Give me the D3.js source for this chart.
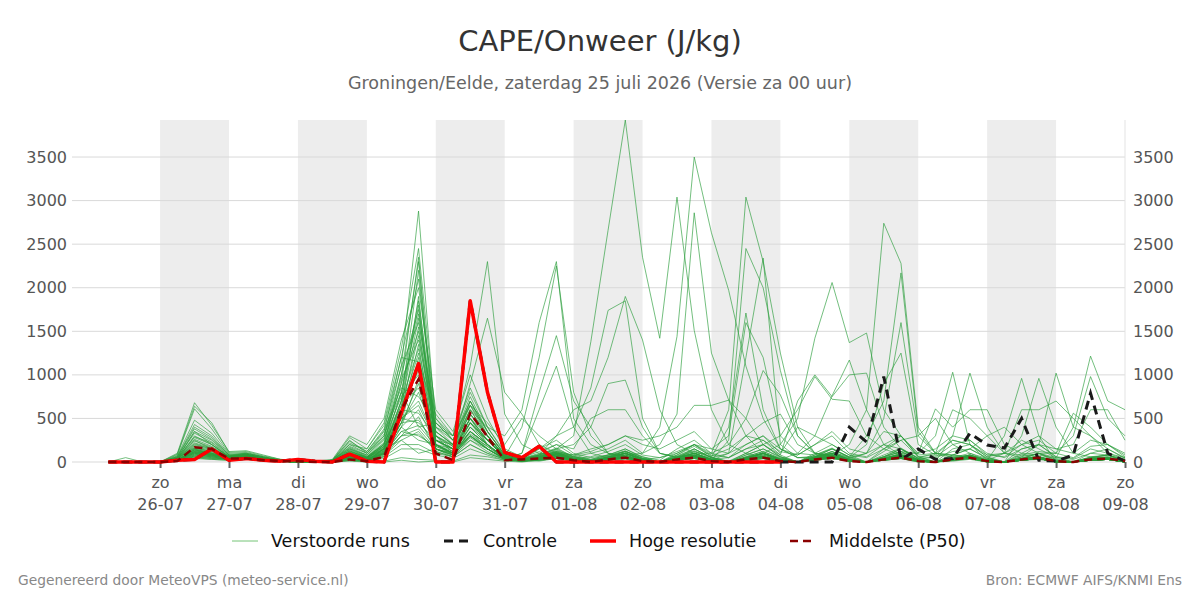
<!DOCTYPE html>
<html>
<head>
<meta charset="utf-8">
<script src="https://cdn.jsdelivr.net/npm/d3@7"></script>
<style>
  body { margin: 0; background: #fff; }
  text { font-family: "DejaVu Sans", sans-serif; }
</style>
</head>
<body>
<div id="chart"></div>
<script>
// Tijdstappen: elke 6 uur vanaf za 25-07 06 UTC
const startTijd = Date.UTC(2026, 6, 25, 6);
const stapUren = 6;

// Dag-labels onder de x-as
const dagLabels = ["26-07","27-07","28-07","29-07","30-07","31-07","01-08","02-08","03-08","04-08","05-08","06-08","07-08","08-08","09-08"];
const weekdagen = ["zo","ma","di","wo","do","vr","za","zo","ma","di","wo","do","vr","za","zo"];
const yTicks = [0, 500, 1000, 1500, 2000, 2500, 3000, 3500];

// Verstoorde runs (50 leden), CAPE in J/kg
const leden = [
[0,0,0, 0,40,350,200, 60,90,40,20, 10,0,20,150, 80,300,1100,2880, 400,200,600,300, 60,20,10,40, 20,0,30,80, 10,0,20,60, 20,0,30,90, 10,0,40,120, 20,0,30,80, 10,0,20,60, 10,0,20,50, 0,0,30,40, 0],
[0,0,0, 0,60,430,300, 80,60,30,10, 0,0,10,200, 150,450,1300,2450, 500,300,800,400, 100,30,20,60, 10,0,50,100, 30,0,40,150, 50,10,100,200, 80,700,1000,750, 1000,1020,400,150, 20,0,40,80, 10,0,30,60, 0,10,50,30, 0],
[0,0,0, 0,20,150,100, 50,70,40,10, 0,0,0,100, 50,250,900,2350, 300,100,500,200, 40,100,600,1100, 400,100,50,30, 0,0,20,40, 10,0,20,40, 0,0,20,60, 10,0,20,40, 0,0,10,30, 0,0,20,40, 0,0,20,30, 0],
[0,0,0, 0,30,250,150, 40,80,50,20, 10,0,0,50, 30,200,1000,2300, 250,150,700,350, 80,40,100,200, 150,500,600,600, 300,100,50,80, 30,0,50,100, 20,0,60,100, 30,0,50,120, 20,0,30,80, 10,0,40,100, 0,0,60,80, 20],
[0,0,0, 0,10,120,80, 30,50,30,10, 0,0,0,80, 20,150,700,2200, 200,100,400,250, 60,30,80,300, 600,700,1200,1900, 1400,600,200,100, 30,0,40,60, 10,0,30,50, 10,0,30,60, 10,0,20,40, 0,0,20,40, 0,0,30,50, 0],
[0,0,0, 0,50,160,120, 70,100,60,20, 0,0,20,250, 100,350,1200,2100, 450,250,650,300, 50,20,40,80, 30,0,20,50, 0,0,30,80, 20,0,40,100, 30,0,40,80, 20,0,40,100, 30,0,50,100, 20,300,960,300, 0,0,50,80, 0],
[0,0,0, 0,100,680,420, 120,130,80,30, 20,10,30,300, 200,500,1400,2000, 600,350,1000,500, 150,60,150,250, 100,50,80,120, 40,0,100,200, 150,300,1600,1200, 300,100,80,60, 20,0,40,80, 10,0,30,60, 10,0,20,40, 0,0,20,30, 0],
[0,0,0, 0,20,140,90, 40,60,30,10, 0,0,0,60, 20,100,600,1900, 200,100,300,150, 30,10,50,100, 60,100,150,250, 100,200,550,2860, 1250,710,300,100, 30,0,30,60, 10,0,30,60, 10,0,30,60, 0,0,20,40, 0,0,20,30, 0],
[0,0,0, 0,40,290,220, 60,80,40,10, 0,0,10,120, 60,200,800,1850, 350,200,550,300, 70,30,60,120, 40,0,60,100, 20,0,40,80, 20,0,50,100, 30,0,50,100, 40,100,500,1600, 300,100,80,60, 20,0,40,60, 0,0,30,50, 0],
[0,0,0, 0,20,100,70, 40,60,40,20, 10,0,0,40, 10,150,700,1800, 150,80,450,200, 50,20,40,100, 80,150,200,300, 250,300,400,650, 650,710,500,200, 60,0,40,80, 20,0,40,60, 10,0,30,60, 10,0,20,40, 0,0,30,40, 0],
[0,0,0, 0,50,350,250, 70,90,50,20, 0,0,10,180, 100,300,1000,1750, 300,150,600,400, 300,600,1600,2300, 500,200,100,60, 20,0,30,60, 10,0,30,50, 10,0,30,60, 10,0,30,60, 10,0,20,40, 0,0,20,40, 0,0,20,30, 0],
[0,0,0, 0,30,190,140, 50,70,30,10, 0,0,0,90, 40,180,800,1700, 400,300,1100,2300, 550,200,100,80, 40,0,30,60, 20,0,30,70, 10,0,30,60, 10,0,30,50, 10,0,20,40, 0,0,20,40, 0,0,20,30, 0,0,20,30, 0],
[0,0,0, 0,20,130,100, 40,50,30,10, 0,0,10,70, 30,160,650,1650, 250,120,500,250, 60,20,50,90, 30,0,40,80, 20,0,30,70, 10,0,30,70, 20,0,40,80, 20,0,40,100, 100,300,1030,200, 20,0,40,60, 0,0,30,50, 0],
[0,0,0, 0,80,610,380, 100,110,60,20, 10,0,20,220, 120,380,1100,1600, 500,250,750,350, 80,30,80,150, 200,400,900,940, 400,100,50,80, 20,0,40,80, 20,0,40,80, 20,0,40,90, 10,0,30,60, 10,0,30,50, 0,0,30,40, 0],
[0,0,0, 0,10,90,60, 30,40,20,10, 0,0,0,50, 20,120,550,1550, 200,80,350,200, 40,10,30,60, 20,0,30,60, 10,0,40,100, 100,600,3040,2300, 1250,400,100,60, 20,0,30,60, 10,0,30,50, 0,0,20,40, 0,0,20,30, 0],
[0,0,0, 0,30,220,160, 50,70,40,10, 0,0,10,110, 40,220,900,1500, 350,200,650,450, 200,500,300,150, 60,20,50,100, 30,0,50,120, 60,400,1710,600, 150,50,60,80, 20,0,40,80, 20,0,40,70, 10,0,30,50, 0,0,20,40, 0],
[0,0,0, 0,20,110,80, 40,60,30,10, 0,0,0,60, 20,140,600,1450, 250,150,450,250, 50,20,40,80, 20,0,30,60, 10,0,30,60, 20,0,40,100, 200,500,1420,2060, 1370,1480,600,300, 60,0,40,80, 20,0,30,60, 0,0,20,40, 0],
[0,0,0, 0,60,380,260, 80,90,50,20, 10,0,20,160, 70,280,950,1400, 400,250,700,300, 70,30,70,130, 60,30,80,150, 60,0,80,180, 70,150,300,250, 80,0,60,150, 50,100,200,150, 40,60,200,250, 100,50,150,200, 60,40,150,100, 50],
[0,0,0, 0,20,100,70, 40,50,20,10, 0,0,0,40, 10,100,500,1350, 150,80,350,150, 40,10,30,60, 20,0,30,60, 10,0,30,60, 10,0,30,60, 10,0,30,60, 10,0,30,60, 20,0,40,80, 30,0,60,200, 1020,400,300,100, 30],
[0,0,0, 0,40,260,180, 60,80,40,20, 0,0,10,130, 50,200,700,1300, 300,180,500,300, 60,30,80,150, 300,1380,2660,3925, 2350,1420,3040,1510, 600,200,100,50, 20,0,30,60, 10,0,30,60, 10,0,30,60, 10,0,20,40, 0,0,20,30, 0],
[0,0,0, 0,20,120,90, 40,60,30,10, 0,0,0,50, 20,130,600,1250, 200,100,400,200, 40,20,40,80, 30,0,40,80, 20,0,40,100, 30,50,150,200, 300,600,980,720, 700,300,150,80, 30,0,40,60, 10,0,30,50, 0,0,20,40, 0],
[0,0,0, 0,10,70,50, 30,40,20,10, 0,0,0,30, 10,90,450,1200, 150,60,300,150, 30,10,30,60, 20,0,30,50, 10,0,30,60, 10,0,30,60, 10,0,30,60, 20,0,40,80, 20,0,40,80, 20,0,40,100, 50,400,1215,700, 600],
[0,0,0, 0,90,640,450, 110,120,70,30, 10,10,20,280, 150,420,1200,1150, 550,300,850,400, 120,50,120,200, 80,30,80,150, 50,0,80,200, 60,0,100,200, 60,0,80,150, 60,0,150,250, 300,500,200,100, 40,0,60,100, 20,0,40,60, 0],
[0,0,0, 0,20,140,100, 40,60,30,10, 0,0,0,70, 20,150,550,1100, 200,100,450,250, 60,400,1200,2250, 800,300,100,60, 20,0,30,60, 10,0,30,60, 10,0,30,60, 10,0,30,60, 10,0,30,60, 0,0,20,40, 0,0,20,30, 0],
[0,0,0, 0,30,170,120, 50,70,40,10, 0,0,10,100, 40,170,600,1050, 250,150,500,250, 50,20,40,80, 20,0,30,60, 10,0,30,60, 10,0,30,60, 10,0,40,80, 200,600,2740,2280, 400,100,60,40, 10,0,30,50, 0,0,20,30, 0],
[0,0,0, 0,50,330,230, 70,90,50,20, 10,0,20,170, 80,260,750,1000, 350,200,600,300, 70,30,70,120, 50,20,60,120, 40,0,60,130, 50,0,80,150, 60,0,100,200, 80,50,150,300, 60,80,250,200, 60,100,250,150, 50,30,100,80, 30],
[0,0,0, 0,10,80,60, 30,40,20,10, 0,0,0,40, 10,80,400,950, 150,80,300,150, 30,10,30,60, 20,0,30,60, 10,0,30,60, 20,100,1200,2340, 200,50,40,60, 20,0,40,80, 20,0,30,60, 10,0,20,40, 0,0,20,30, 0],
[0,0,0, 0,20,110,80, 40,50,30,10, 0,0,0,60, 20,110,450,900, 200,100,350,200, 40,10,40,70, 20,0,30,60, 10,0,30,60, 10,0,30,60, 10,0,30,70, 20,0,40,80, 20,0,300,1020, 400,100,50,40, 10,0,20,30, 0],
[0,0,0, 0,40,210,150, 60,80,40,20, 10,0,10,140, 60,200,650,850, 300,180,550,300, 60,30,60,110, 40,10,50,100, 30,0,50,100, 30,0,60,120, 40,0,60,120, 40,0,60,150, 40,0,80,150, 300,400,200,100, 30,0,50,80, 0],
[0,0,0, 0,20,130,90, 40,60,30,10, 0,0,0,60, 20,120,450,800, 250,200,900,1650, 800,550,200,100, 40,0,30,60, 20,0,30,60, 10,0,30,60, 10,0,30,60, 10,0,30,60, 10,0,30,60, 0,0,20,40, 0,0,20,30, 0],
[0,0,0, 0,70,480,330, 90,100,60,20, 10,0,20,240, 120,360,850,750, 450,250,700,350, 90,40,90,160, 60,20,70,130, 40,0,70,150, 50,0,80,150, 50,0,80,160, 50,0,80,160, 40,50,120,150, 40,0,80,120, 100,560,400,200, 60],
[0,0,0, 0,20,160,110, 50,60,30,10, 0,0,10,90, 30,150,500,700, 250,150,450,250, 60,30,70,120, 80,120,200,300, 200,150,250,350, 150,100,200,300, 150,80,200,350, 150,100,350,300, 100,150,300,250, 80,100,200,300, 150,100,250,200, 100],
[0,0,0, 0,30,180,130, 50,70,40,10, 0,0,10,100, 40,160,500,650, 250,150,500,250, 60,20,50,100, 30,0,40,80, 100,400,1440,3500, 2630,1970,1100,500, 150,50,60,80, 20,0,40,80, 20,0,30,60, 10,0,20,40, 0,0,20,30, 0],
[0,0,0, 0,20,120,90, 40,50,30,10, 0,0,0,60, 20,100,400,600, 200,100,350,200, 40,20,40,80, 30,0,50,100, 30,50,100,200, 100,200,500,1050, 770,300,100,80, 30,0,40,80, 20,0,30,60, 10,0,20,40, 0,0,20,30, 0],
[0,0,0, 0,40,280,200, 60,80,40,20, 10,0,10,150, 60,220,600,560, 300,200,550,300, 70,30,60,110, 40,10,50,100, 30,0,50,100, 30,0,50,100, 30,0,50,120, 50,200,900,1250, 200,80,60,60, 20,0,40,60, 10,0,30,50, 0],
[0,0,0, 0,10,60,40, 30,40,20,10, 0,0,0,30, 10,60,300,520, 120,60,250,120, 30,10,30,60, 20,0,30,60, 10,0,30,60, 10,0,30,60, 10,0,30,60, 10,0,30,60, 10,0,30,60, 20,0,300,960, 400,100,60,40, 0],
[0,0,0, 0,20,150,100, 40,60,30,10, 0,0,10,80, 30,130,450,480, 200,120,400,200, 50,20,50,100, 30,0,50,100, 30,0,50,100, 30,0,50,100, 30,0,50,100, 30,0,60,120, 100,610,400,600, 600,200,100,80, 40,0,50,80, 20],
[0,0,0, 0,30,200,150, 50,70,40,10, 0,0,10,110, 50,180,500,450, 250,150,450,250, 60,30,150,300, 400,850,1740,1850, 500,100,60,80, 20,0,40,80, 20,0,30,60, 10,0,30,60, 10,0,30,60, 0,0,20,40, 0,0,20,30, 0],
[0,0,0, 0,20,90,70, 40,50,20,10, 0,0,0,50, 20,90,350,420, 180,100,300,180, 40,20,50,90, 30,0,60,120, 60,20,150,250, 100,50,200,300, 100,400,300,200, 80,0,120,250, 60,0,150,200, 60,0,150,200, 60,0,100,150, 40],
[0,0,0, 0,60,400,280, 80,100,50,20, 10,0,20,200, 100,320,800,400, 450,300,650,350, 80,40,80,140, 50,20,60,120, 40,0,60,120, 40,0,60,120, 40,0,60,150, 60,300,700,2170, 350,100,80,60, 20,0,40,60, 10,0,30,50, 0],
[0,0,0, 0,20,100,80, 40,50,30,10, 0,0,0,60, 20,100,300,380, 150,100,300,150, 40,20,60,100, 40,60,120,200, 80,50,120,200, 80,50,150,250, 120,80,200,300, 100,60,200,300, 80,100,250,200, 80,60,200,250, 100,50,180,200, 80],
[0,0,0, 0,10,70,50, 30,40,20,10, 0,0,0,40, 10,70,250,350, 120,60,200,100, 30,10,30,60, 20,0,30,60, 10,0,30,60, 20,250,2450,2000, 1050,300,100,60, 20,0,40,60, 10,0,30,60, 0,0,20,40, 0,0,20,30, 0],
[0,0,0, 0,20,110,80, 40,60,30,10, 0,0,0,50, 20,100,300,320, 150,80,280,150, 40,20,50,80, 30,0,50,100, 30,0,50,100, 30,0,50,100, 30,0,50,100, 30,0,60,150, 50,100,600,500, 300,100,80,60, 20,0,40,60, 10],
[0,0,0, 0,20,140,100, 40,50,30,10, 0,0,10,70, 30,110,350,300, 180,100,320,180, 40,20,50,90, 30,0,40,80, 20,0,40,80, 20,0,40,100, 30,100,300,760, 1170,600,200,80, 30,0,40,60, 10,0,30,50, 0,0,20,40, 0],
[0,0,0, 0,40,300,200, 60,80,40,20, 10,0,10,130, 50,180,400,250, 200,150,350,200, 50,30,60,110, 40,10,50,100, 30,0,50,100, 30,0,50,100, 30,0,50,100, 30,0,60,120, 30,0,80,150, 50,0,100,200, 150,200,600,600, 250],
[0,0,0, 0,10,60,40, 30,40,20,10, 0,0,0,30, 10,60,200,200, 100,60,200,100, 30,100,800,1450, 700,400,100,60, 20,0,30,60, 10,0,30,60, 10,0,30,60, 10,0,30,60, 10,0,30,60, 0,0,20,40, 0,0,20,30, 0],
[0,0,0, 0,10,50,30, 20,30,20,10, 0,0,0,20, 10,40,150,150, 80,40,150,80, 20,10,20,40, 10,0,20,40, 10,0,20,40, 10,0,20,40, 10,0,20,40, 10,0,20,50, 10,0,30,60, 20,0,40,100, 100,300,980,500, 300],
[0,0,0, 0,40,240,170, 60,80,40,20, 10,0,10,120, 50,150,250,100, 150,100,250,150, 40,20,50,90, 30,0,50,100, 30,0,60,150, 50,100,300,450, 550,200,100,80, 30,0,50,80, 20,0,40,70, 10,0,30,60, 0,0,30,40, 0],
[0,50,0, 0,20,80,60, 30,40,20,10, 0,0,0,20, 0,10,50,30, 20,10,80,60, 20,10,20,40, 10,0,20,40, 10,0,20,40, 10,0,20,40, 10,0,20,40, 10,0,20,40, 10,0,20,40, 10,0,20,40, 0,0,20,30, 0],
[0,0,0, 0,10,40,30, 20,30,10,0, 0,0,0,10, 0,0,20,0, 10,0,50,30, 10,0,20,40, 10,0,20,40, 10,0,20,40, 10,0,20,40, 10,0,20,40, 10,0,20,40, 10,0,30,60, 20,100,600,600, 700,500,300,150, 50]
];

// Controle-run
const controle = [0,0,0, 0,20,30,150, 20,40,20,10, 30,10,0,90, 10,0,560,1130, 0,0,1850,800, 110,50,180,0, 0,0,0,0, 0,0,0,0, 0,0,0,0, 0,0,0,0, 400,230,980,30, 150,30,40,330, 195,160,500,20, 10,80,790,100, 10];

// Hoge resolutie (t/m 04-08 00 uur)
const hogeResolutie = [0,0,0, 0,20,30,150, 20,40,20,10, 30,10,0,90, 10,0,560,1130, 0,0,1850,800, 110,50,180,0, 0,0,0,0, 0,0,0,0, 0,0,0,0, 0];

// Middelste (P50)
const middelste = [0,0,0, 0,10,170,150, 40,40,20,10, 10,0,0,30, 10,60,600,950, 100,20,560,290, 20,30,40,50, 20,0,30,50, 10,0,30,50, 10,0,30,50, 10,0,30,50, 10,0,30,50, 10,0,30,50, 10,0,30,50, 10,0,30,40, 10];

// Afmetingen
const width = 1200, height = 600;
const margin = {top: 120, right: 75, bottom: 138, left: 72};
const plotW = width - margin.left - margin.right;
const plotH = height - margin.top - margin.bottom;

const tijd = i => new Date(startTijd + i * stapUren * 3600 * 1000);
const dagDatum = lbl => {
  const [d, m] = lbl.split("-").map(Number);
  return new Date(Date.UTC(2026, m - 1, d));
};
const dagen = dagLabels.map(dagDatum);

// Schalen
const x = d3.scaleUtc()
  .domain([new Date(Date.UTC(2026, 6, 24, 17, 20)), dagen[dagen.length - 1]])
  .range([0, plotW]);
const y = d3.scaleLinear()
  .domain([0, 3925])
  .range([plotH, 0]);

const svg = d3.select("#chart").append("svg")
  .attr("width", width)
  .attr("height", height);

// Titels
svg.append("text")
  .attr("x", width / 2).attr("y", 51)
  .attr("text-anchor", "middle")
  .attr("font-size", "29px").attr("fill", "#333")
  .text("CAPE/Onweer (J/kg)");
svg.append("text")
  .attr("x", width / 2).attr("y", 89)
  .attr("text-anchor", "middle")
  .attr("font-size", "17.5px").attr("fill", "#666")
  .text("Groningen/Eelde, zaterdag 25 juli 2026 (Versie za 00 uur)");

const g = svg.append("g")
  .attr("transform", `translate(${margin.left}, ${margin.top})`);

// Grijze banden om de dag
dagen.slice(0, -1).forEach((d, i) => {
  if (i % 2 !== 0) return;
  g.append("rect")
    .attr("x", x(d))
    .attr("y", 0)
    .attr("width", x(dagen[i + 1]) - x(d))
    .attr("height", plotH)
    .attr("fill", "#ededed");
});

// Horizontale rasterlijnen
g.selectAll(".yGrid")
  .data(yTicks)
  .join("line")
  .attr("x1", 0).attr("x2", plotW)
  .attr("y1", d => y(d)).attr("y2", d => y(d))
  .attr("stroke", "#d9d9d9")
  .attr("stroke-width", 1);

// Rechter rand
g.append("line")
  .attr("x1", plotW).attr("x2", plotW)
  .attr("y1", 0).attr("y2", plotH)
  .attr("stroke", "#e3e3e3");

// Y-assen links en rechts
g.append("g")
  .call(d3.axisLeft(y).tickValues(yTicks).tickFormat(d3.format("d")).tickSize(0).tickPadding(5))
  .call(a => a.select(".domain").remove())
  .selectAll("text")
  .attr("font-size", "16px").attr("fill", "#555")
  .style("font-family", "DejaVu Sans");
g.append("g")
  .attr("transform", `translate(${plotW}, 0)`)
  .call(d3.axisRight(y).tickValues(yTicks).tickFormat(d3.format("d")).tickSize(0).tickPadding(8))
  .call(a => a.select(".domain").remove())
  .selectAll("text")
  .attr("font-size", "16px").attr("fill", "#555")
  .style("font-family", "DejaVu Sans");

// X-as
const xAs = g.append("g")
  .attr("transform", `translate(0, ${plotH})`)
  .call(d3.axisBottom(x).tickValues(dagen).tickSize(6).tickFormat(""));
xAs.select(".domain").remove();
xAs.selectAll(".tick line").attr("stroke", "#666").attr("stroke-width", 2);
xAs.selectAll(".tick").each(function(d, i) {
  const t = d3.select(this).append("text")
    .attr("text-anchor", "middle")
    .attr("fill", "#555")
    .attr("font-size", "16px")
    .style("font-family", "DejaVu Sans");
  t.append("tspan").attr("x", 0).attr("y", 26).text(weekdagen[i]);
  t.append("tspan").attr("x", 0).attr("y", 48).text(dagLabels[i]);
});

// Lijngenerator
const lijn = d3.line()
  .defined(d => d != null)
  .x((d, i) => x(tijd(i)))
  .y(d => y(d));

// Verstoorde runs
g.selectAll(".lid")
  .data(leden)
  .join("path")
  .attr("fill", "none")
  .attr("stroke", "#2a9d3a")
  .attr("stroke-opacity", 0.65)
  .attr("stroke-width", 1)
  .attr("d", lijn);

// Controle
g.append("path")
  .datum(controle)
  .attr("fill", "none")
  .attr("stroke", "#1a1a1a")
  .attr("stroke-width", 3)
  .attr("stroke-dasharray", "9,6")
  .attr("d", lijn);

// Hoge resolutie
g.append("path")
  .datum(hogeResolutie)
  .attr("fill", "none")
  .attr("stroke", "#ff0000")
  .attr("stroke-width", 3.5)
  .attr("stroke-linejoin", "round")
  .attr("d", lijn);

// Middelste (P50)
g.append("path")
  .datum(middelste)
  .attr("fill", "none")
  .attr("stroke", "#8b0000")
  .attr("stroke-width", 2.5)
  .attr("stroke-dasharray", "8,5")
  .attr("d", lijn);

// Legenda
const legenda = [
  {naam: "Verstoorde runs", kleur: "#74c476", breedte: 1, streep: null, x: 232},
  {naam: "Controle", kleur: "#1a1a1a", breedte: 3, streep: "9,6", x: 444},
  {naam: "Hoge resolutie", kleur: "#ff0000", breedte: 3.5, streep: null, x: 590},
  {naam: "Middelste (P50)", kleur: "#8b0000", breedte: 2.5, streep: "8,5", x: 790}
];
const leg = svg.append("g");
legenda.forEach(l => {
  leg.append("line")
    .attr("x1", l.x).attr("x2", l.x + 26)
    .attr("y1", 541).attr("y2", 541)
    .attr("stroke", l.kleur)
    .attr("stroke-width", l.breedte)
    .attr("stroke-dasharray", l.streep);
  leg.append("text")
    .attr("x", l.x + 39).attr("y", 547)
    .attr("font-size", "17.5px").attr("fill", "#111")
    .text(l.naam);
});

// Voettekst
svg.append("text")
  .attr("x", 18).attr("y", 585)
  .attr("font-size", "13.8px").attr("fill", "#888")
  .text("Gegenereerd door MeteoVPS (meteo-service.nl)");
svg.append("text")
  .attr("x", 1182).attr("y", 585)
  .attr("text-anchor", "end")
  .attr("font-size", "13.8px").attr("fill", "#888")
  .text("Bron: ECMWF AIFS/KNMI Ens");
</script>
</body>
</html>
